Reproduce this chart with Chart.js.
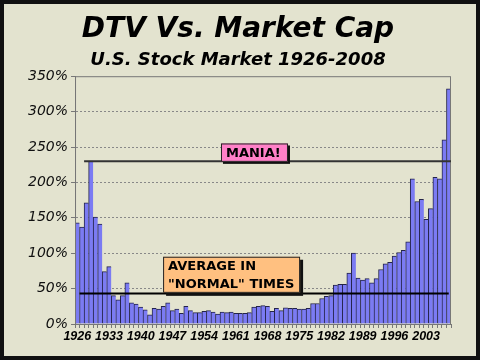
<!DOCTYPE html>
<html>
<head>
<meta charset="utf-8">
<script src="https://cdn.jsdelivr.net/npm/chart.js@4.4.0/dist/chart.umd.min.js"></script>
<style>
  html, body { margin: 0; padding: 0; background: #fff; }
  #frame {
    width: 480px; height: 360px; box-sizing: border-box;
    border: 4px solid #111; background: #e3e3cf;
  }
  #chart { display: block; }
</style>
</head>
<body>
<div id="frame"><canvas id="chart" width="472" height="352"></canvas></div>
<script>
// years 1926..2008
const years = [];
for (let y = 1926; y <= 2008; y++) years.push(String(y));

// DTV as % of market cap
const dtvPct = [
  143, 137, 171, 230, 151, 141, 74, 81, 40, 34,
  40, 58, 30, 28, 24, 20, 13, 22, 21, 25,
  30, 19, 21, 15, 25, 19, 16, 16, 18, 19,
  17, 14, 17, 16, 17, 15, 15, 15, 16, 24,
  25, 26, 25, 18, 22, 19, 23, 22, 22, 21,
  21, 22, 29, 29, 36, 39, 40, 55, 56, 56,
  72, 100, 65, 62, 64, 58, 64, 77, 85, 87,
  96, 101, 104, 116, 205, 173, 176, 148, 163, 207,
  205, 260, 332
];

const yTicks = [0, 50, 100, 150, 200, 250, 300, 350];
const maniaLevel = 230;
const normalLevel = 43;

const font = "Verdana, 'DejaVu Sans', sans-serif";
const xFont = "'Liberation Sans', Arial, sans-serif";

// reference lines + callout boxes
const calloutPlugin = {
  id: "callouts",
  afterDraw(chart) {
    const { ctx, chartArea } = chart;
    const x = chart.scales.x, y = chart.scales.y;
    const half = (x.getPixelForValue(1) - x.getPixelForValue(0)) / 2;

    ctx.save();
    // plot area frame
    ctx.strokeStyle = "#777";
    ctx.lineWidth = 1;
    ctx.strokeRect(chartArea.left + 0.5, chartArea.top + 0.5,
      chartArea.right - chartArea.left - 1, chartArea.bottom - chartArea.top);

    // mania line
    ctx.strokeStyle = "#333";
    ctx.lineWidth = 2;
    let py = y.getPixelForValue(maniaLevel);
    ctx.beginPath();
    ctx.moveTo(x.getPixelForValue(2) - half, py);
    ctx.lineTo(chartArea.right, py);
    ctx.stroke();

    // normal average line
    ctx.strokeStyle = "#000";
    py = y.getPixelForValue(normalLevel);
    ctx.beginPath();
    ctx.moveTo(x.getPixelForValue(1) - half, py);
    ctx.lineTo(x.getPixelForValue(82), py);
    ctx.stroke();

    function box(left, top, bottom, width, fill, lines, shadow) {
      const t = y.getPixelForValue(top), b = y.getPixelForValue(bottom);
      ctx.fillStyle = "#111";
      ctx.fillRect(left + shadow, t + shadow, width, b - t);
      ctx.fillStyle = fill;
      ctx.fillRect(left, t, width, b - t);
      ctx.strokeStyle = "#222";
      ctx.lineWidth = 1;
      ctx.strokeRect(left + 0.5, t + 0.5, width - 1, b - t - 1);
      ctx.fillStyle = "#000";
      ctx.font = "bold 13px " + font;
      ctx.textBaseline = "middle";
      ctx.textAlign = "left";
      const step = (b - t) / lines.length;
      lines.forEach((s, i) => ctx.fillText(s, left + 5, t + step * (i + 0.5) + 1));
    }

    box(x.getPixelForValue(32) - half + 1, 255, 229, 67, "#ff80c8", ["MANIA!"], 2);
    box(x.getPixelForValue(19) - half + 2, 95, 44, 137, "#ffc080",
      ["AVERAGE IN", "\"NORMAL\" TIMES"], 3);
    ctx.restore();
  }
};

new Chart(document.getElementById("chart"), {
  type: "bar",
  data: {
    labels: years,
    datasets: [{
      data: dtvPct,
      backgroundColor: "#7b7bf3",
      borderColor: "#24244a",
      borderWidth: { left: 1, right: 0, top: 1, bottom: 0 },
      categoryPercentage: 1,
      barPercentage: 1
    }]
  },
  options: {
    responsive: false,
    animation: false,
    layout: { padding: { top: 9, left: 21, right: 25, bottom: 11 } },
    plugins: {
      legend: { display: false },
      tooltip: { enabled: false },
      title: {
        display: true,
        text: "DTV Vs. Market Cap",
        color: "#000",
        font: { family: font, size: 28, weight: "bold", style: "italic" },
        padding: { top: 0, bottom: 3 }
      },
      subtitle: {
        display: true,
        text: "U.S. Stock Market 1926-2008",
        color: "#000",
        font: { family: font, size: 18, weight: "bold", style: "italic" },
        padding: { top: 0, bottom: 5 }
      }
    },
    scales: {
      x: {
        grid: {
          offset: true,
          drawOnChartArea: false,
          tickLength: 4,
          tickColor: "#777"
        },
        border: { color: "#777" },
        ticks: {
          autoSkip: false,
          maxRotation: 0,
          padding: 1,
          color: "#000",
          font: { family: xFont, size: 12.5, weight: "bold", style: "italic" },
          callback: (v, i) => (i % 7 === 0 ? years[i] : "")
        }
      },
      y: {
        min: 0,
        max: 350,
        grid: {
          color: c => (c.tick && yTicks.includes(c.tick.value) && c.tick.value > 0 && c.tick.value < 350 ? "#888" : "transparent"),
          tickColor: "#777",
          tickLength: 4
        },
        border: { color: "#777", dash: [2, 2] },
        ticks: {
          stepSize: 25,
          padding: 3,
          color: "#111",
          font: { family: font, size: 14, style: "italic" },
          callback: v => (yTicks.includes(v) ? v + "%" : "")
        }
      }
    }
  },
  plugins: [calloutPlugin]
});
</script>
</body>
</html>
